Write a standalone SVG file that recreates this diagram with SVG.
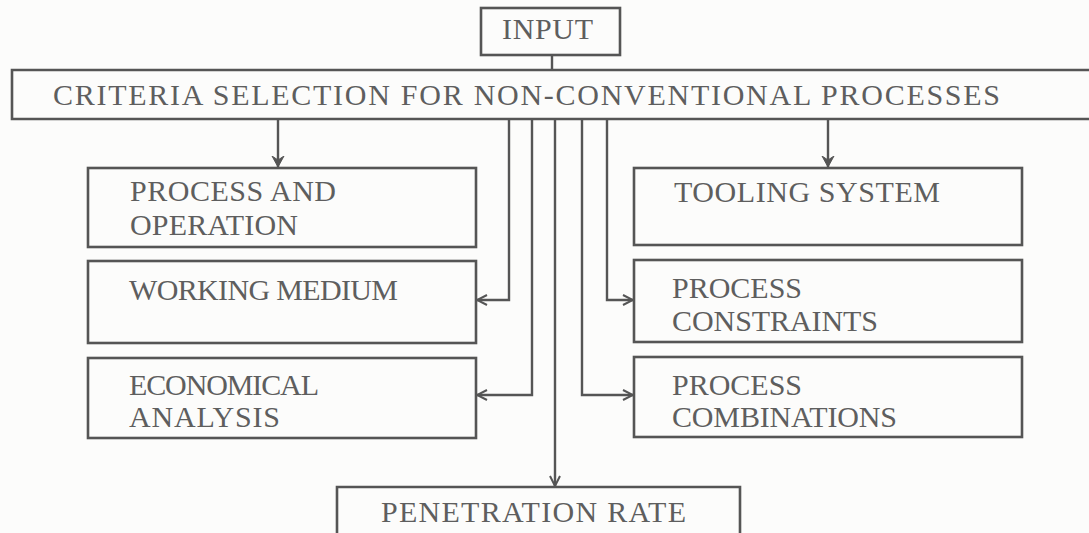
<svg xmlns="http://www.w3.org/2000/svg" width="1089" height="533" viewBox="0 0 1089 533">
  <style>
    .box { fill: none; stroke: #555; stroke-width: 2.6; }
    .lbl { font-family: "Liberation Serif", "DejaVu Serif", serif; font-size: 30px; fill: #5e5e5e; }
    .wire { fill: none; stroke: #555; stroke-width: 2.4; }
  </style>
  <defs>
    <marker id="open" viewBox="0 0 12 12" refX="11" refY="6" markerWidth="12" markerHeight="12" markerUnits="userSpaceOnUse" orient="auto">
      <path d="M1,1 L11,6 L1,11" fill="none" stroke="#555" stroke-width="2"/>
    </marker>
    <marker id="solid" viewBox="0 0 12 14" refX="11" refY="7" markerWidth="12" markerHeight="14" markerUnits="userSpaceOnUse" orient="auto">
      <path d="M0,1 L11,7 L0,13 L4,7 Z" fill="#555" stroke="#555" stroke-width="1"/>
    </marker>
  </defs>
  <rect width="1089" height="533" fill="#fcfcfb"/>

  <g id="connectors">
    <line class="wire" x1="552" y1="55" x2="552" y2="70"/>
    <line class="wire" x1="278" y1="119" x2="278" y2="167" marker-end="url(#solid)"/>
    <line class="wire" x1="828" y1="119" x2="828" y2="167" marker-end="url(#solid)"/>
    <polyline class="wire" points="509,119 509,300 477,300" marker-end="url(#open)"/>
    <polyline class="wire" points="532,119 532,395 477,395" marker-end="url(#open)"/>
    <line class="wire" x1="555" y1="119" x2="555" y2="486" marker-end="url(#open)"/>
    <polyline class="wire" points="582,119 582,395 633,395" marker-end="url(#open)"/>
    <polyline class="wire" points="607,119 607,300 633,300" marker-end="url(#open)"/>
  </g>

  <!-- labels are spread to a typewriter pitch of about 19px per character -->
  <g id="input">
    <rect class="box" x="481" y="8" width="139" height="47"/>
    <text class="lbl" x="502" y="39" textLength="91" lengthAdjust="spacing">INPUT</text>
  </g>

  <g id="criteria">
    <path class="box" d="M1095,70 H12 V119 H1095"/>
    <text class="lbl" x="53" y="105" textLength="947" lengthAdjust="spacing">CRITERIA SELECTION FOR NON-CONVENTIONAL PROCESSES</text>
  </g>

  <g id="process-operation">
    <rect class="box" x="88" y="168" width="388" height="79"/>
    <text class="lbl" x="130" y="201" textLength="206" lengthAdjust="spacing">PROCESS AND</text>
    <text class="lbl" x="130" y="235" textLength="168" lengthAdjust="spacing">OPERATION</text>
  </g>

  <g id="working-medium">
    <rect class="box" x="88" y="261" width="388" height="82"/>
    <text class="lbl" x="129" y="300" textLength="269" lengthAdjust="spacing">WORKING MEDIUM</text>
  </g>

  <g id="economical-analysis">
    <rect class="box" x="88" y="358" width="388" height="80"/>
    <text class="lbl" x="129" y="395" textLength="190" lengthAdjust="spacing">ECONOMICAL</text>
    <text class="lbl" x="129" y="427" textLength="151" lengthAdjust="spacing">ANALYSIS</text>
  </g>

  <g id="tooling-system">
    <rect class="box" x="634" y="168" width="388" height="77"/>
    <text class="lbl" x="674" y="202" textLength="266" lengthAdjust="spacing">TOOLING SYSTEM</text>
  </g>

  <g id="process-constraints">
    <rect class="box" x="634" y="260" width="388" height="82"/>
    <text class="lbl" x="672" y="298" textLength="130" lengthAdjust="spacing">PROCESS</text>
    <text class="lbl" x="672" y="331" textLength="206" lengthAdjust="spacing">CONSTRAINTS</text>
  </g>

  <g id="process-combinations">
    <rect class="box" x="634" y="357" width="388" height="80"/>
    <text class="lbl" x="672" y="395" textLength="130" lengthAdjust="spacing">PROCESS</text>
    <text class="lbl" x="672" y="427" textLength="225" lengthAdjust="spacing">COMBINATIONS</text>
  </g>

  <g id="penetration-rate">
    <path class="box" d="M337,540 V487 H740 V540"/>
    <text class="lbl" x="381" y="522" textLength="305" lengthAdjust="spacing">PENETRATION RATE</text>
  </g>
</svg>
